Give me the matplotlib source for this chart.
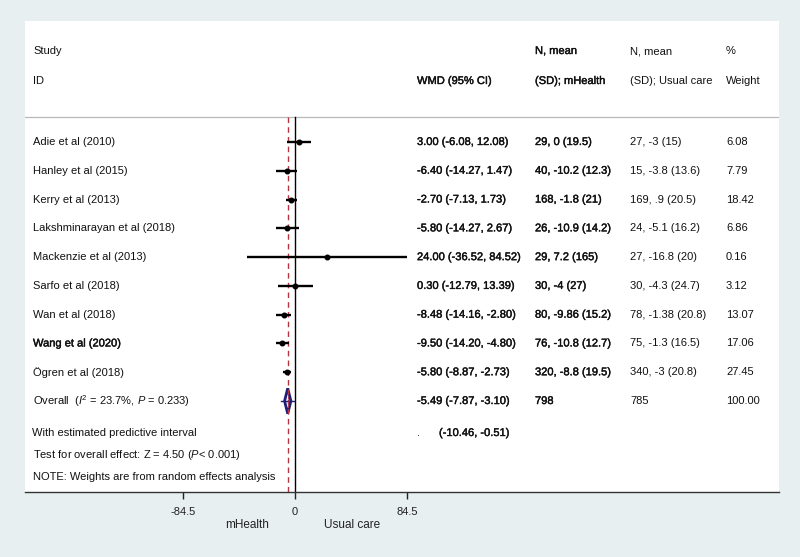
import matplotlib
matplotlib.use("Agg")
import matplotlib.pyplot as plt
import matplotlib.transforms as mtransforms
import matplotlib.patheffects as pe

plt.rcParams["font.family"] = ["Liberation Sans", "DejaVu Sans"]
plt.rcParams["mathtext.fontset"] = "custom"
plt.rcParams["mathtext.rm"] = "Liberation Sans"
plt.rcParams["mathtext.it"] = "Liberation Sans:italic"

# study data
studies = ["Adie et al (2010)", "Hanley et al (2015)", "Kerry et al (2013)",
           "Lakshminarayan et al (2018)", "Mackenzie et al (2013)", "Sarfo et al (2018)",
           "Wan et al (2018)", "Wang et al (2020)", "Ögren et al (2018)"]
wmd = [3.00, -6.40, -2.70, -5.80, 24.00, 0.30, -8.48, -9.50, -5.80]
ci_low = [-6.08, -14.27, -7.13, -14.27, -36.52, -12.79, -14.16, -14.20, -8.87]
ci_high = [12.08, 1.47, 1.73, 2.67, 84.52, 13.39, -2.80, -4.80, -2.73]
mhealth = ["29, 0 (19.5)", "40, -10.2 (12.3)", "168, -1.8 (21)", "26, -10.9 (14.2)",
           "29, 7.2 (165)", "30, -4 (27)", "80, -9.86 (15.2)", "76, -10.8 (12.7)",
           "320, -8.8 (19.5)"]
usual = ["27, -3 (15)", "15, -3.8 (13.6)", "169, .9 (20.5)", "24, -5.1 (16.2)",
         "27, -16.8 (20)", "30, -4.3 (24.7)", "78, -1.38 (20.8)", "75, -1.3 (16.5)",
         "340, -3 (20.8)"]
weights = [6.08, 7.79, 18.42, 6.86, 0.16, 3.12, 13.07, 17.06, 27.45]

# pooled result
overall_est = -5.49
overall_low = -7.87
overall_high = -3.10
pred_low = -10.46
pred_high = -0.51
n_mhealth_total = 798
n_usual_total = 785
ticks = [-84.5, 0, 84.5]

BG = "#e8eff1"
NAVY = "#1f1f7a"
RED = "#b5343f"
semi = [pe.withStroke(linewidth=0.3, foreground="#111111")]

W, H = 800, 557
fig = plt.figure(figsize=(W / 100, H / 100), dpi=100, facecolor=BG)

# white panel / forest axes (pixel box 25..779 x 21..492)
px_l, px_r, px_t, px_b = 25, 779, 21, 492
ax = fig.add_axes([px_l / W, 1 - px_b / H, (px_r - px_l) / W, (px_b - px_t) / H])
ax.set_facecolor("white")

# x scale: 0 at pixel 295, 84.5 units per 112 px
x0_px, unit = 295, 112 / 84.5
ax.set_xlim((px_l - x0_px) / unit, (px_r - x0_px) / unit)
# y scale: row 0 at pixel 142, rows every 28.78 px
y0_px, row = 142, 28.78
ax.set_ylim((px_b - y0_px) / row, (px_t - y0_px) / row)

for s in ["top", "left", "right"]:
    ax.spines[s].set_visible(False)
ax.spines["bottom"].set_linewidth(1.0)
ax.spines["bottom"].set_color("#333333")
ax.set_yticks([])
ax.set_xticks(ticks)
ax.set_xticklabels(["-84.5", "0", "84.5"])
ax.tick_params(axis="x", length=5, width=1, direction="out", labelsize=8, pad=6,
               colors="#222222")

sep_y = (117 - y0_px) / row
ybot = (px_b - y0_px) / row
ax.axhline(sep_y, color="#b8b8b8", lw=0.9)
ax.plot([0, 0], [sep_y, ybot], color="black", lw=1.0)
ax.plot([overall_est, overall_est], [sep_y, ybot], color=RED, lw=1.0,
        linestyle=(0, (4, 3)))

# study CIs and points
n = len(studies)
for i in range(n):
    ax.plot([ci_low[i], ci_high[i]], [i, i], color="black", lw=1.7, solid_capstyle="butt")
    ax.plot(wmd[i], i, marker="o", color="black", markersize=3.3)

# overall diamond and predictive interval
yo = n
ax.plot([pred_low, pred_high], [yo, yo], color=NAVY, lw=1.0)
ax.fill([overall_low, overall_est, overall_high, overall_est, overall_low],
        [yo, yo - 0.44, yo, yo + 0.44, yo], facecolor="white", edgecolor=NAVY, lw=2.0)
ax.plot([overall_est, overall_est], [yo - 0.3, yo + 0.3], color=RED, lw=0.8,
        linestyle=(0, (2, 2)))

# text columns
tr = mtransforms.blended_transform_factory(fig.transFigure, ax.transData)
fs = 8
col_study, col_wmd, col_m, col_u, col_w = 33 / W, 417 / W, 535 / W, 630 / W, 726 / W
h1 = (51 - y0_px) / row
h2 = (81 - y0_px) / row


def put(x, y, s, heavy=False, **kw):
    t = ax.text(x, y, s, transform=tr, fontsize=fs, va="center", color="#111111", **kw)
    if heavy:
        t.set_path_effects(semi)
    return t


for x, t1, t2, heavy in [(col_study, "Study", "ID", False),
                         (col_wmd, "", "WMD (95% CI)", True),
                         (col_m, "N, mean", "(SD); mHealth", True),
                         (col_u, "N, mean", "(SD); Usual care", False),
                         (col_w, "%", "Weight", False)]:
    put(x, h1, t1, heavy)
    put(x, h2, t2, heavy)

for i in range(n):
    put(col_study, i, studies[i], studies[i].startswith("Wang"))
    put(col_wmd, i, "%.2f (%.2f, %.2f)" % (wmd[i], ci_low[i], ci_high[i]), True)
    put(col_m, i, mhealth[i], True)
    put(col_u, i, usual[i])
    put(col_w, i, "%.2f" % weights[i])

put(col_study, yo, r"Overall  ($\mathit{I}^2$ = 23.7%, $\mathit{P}$ = 0.233)")
put(col_wmd, yo, "%.2f (%.2f, %.2f)" % (overall_est, overall_low, overall_high), True)
put(col_m, yo, str(n_mhealth_total), True)
put(col_u, yo, str(n_usual_total))
put(col_w, yo, "100.00")

yp = (433 - y0_px) / row
put(32 / W, yp, "With estimated predictive interval")
put(col_wmd, yp, ".")
put(439 / W, yp, "(%.2f, %.2f)" % (pred_low, pred_high), True)
put(col_study, (455 - y0_px) / row, r"Test for overall effect: Z = 4.50 ($\mathit{P}$< 0.001)")
put(col_study, (477 - y0_px) / row, "NOTE: Weights are from random effects analysis")

# direction labels below axis
fig.text(247 / W, 1 - 525 / H, "mHealth", fontsize=8.5, ha="center", va="center",
         color="#222222")
fig.text(352 / W, 1 - 525 / H, "Usual care", fontsize=8.5, ha="center", va="center",
         color="#222222")

fig.savefig("out.png", dpi=100, facecolor=BG)
